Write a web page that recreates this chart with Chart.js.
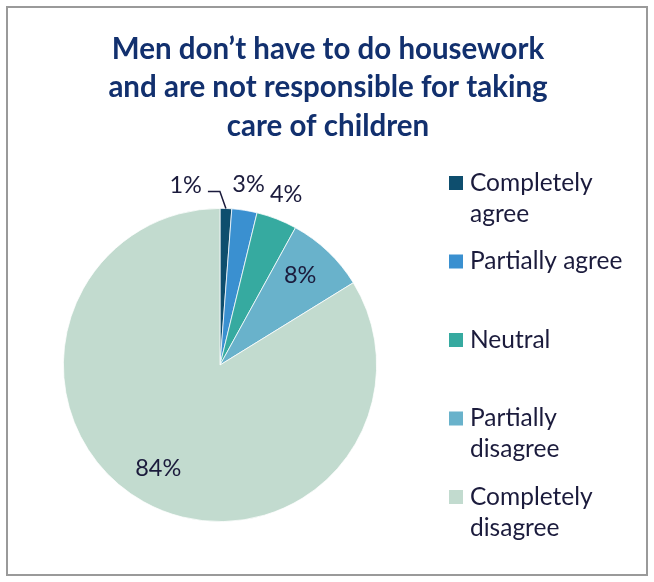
<!DOCTYPE html>
<html>
<head>
<meta charset="utf-8">
<script src="https://cdn.jsdelivr.net/npm/chart.js@4"></script>
<style>
  html, body { margin: 0; padding: 0; background: #fff; }
  canvas { display: block; }
</style>
</head>
<body>
<canvas id="pie" width="654" height="582"></canvas>
<script>
// values (shown rounded)
const categories = ["Completely agree", "Partially agree", "Neutral", "Partially disagree", "Completely disagree"];
const legendLines = [["Completely", "agree"], ["Partially agree"], ["Neutral"], ["Partially", "disagree"], ["Completely", "disagree"]];
const shares = [1.2, 2.6, 4.2, 8.2, 83.8];
const sliceColors = ["#0E4E6E", "#3A90D0", "#36AAA0", "#69B2CB", "#C2DBCF"];
const titleLines = ["Men don\u2019t have to do housework", "and are not responsible for taking", "care of children"];

const textColor = "#1B1B3C";
const titleColor = "#12306E";
const fontFamily = "Lato, 'Open Sans', sans-serif";

const decor = {
    id: "decor",
    afterDraw(chart) {
        const ctx = chart.ctx;
        ctx.save();
        // frame
        ctx.strokeStyle = "#9A9A9A";
        ctx.lineWidth = 2;
        ctx.strokeRect(7, 7, chart.width - 14, chart.height - 14);

        // title
        ctx.fillStyle = titleColor;
        ctx.font = "bold 29.5px " + fontFamily;
        ctx.textAlign = "center";
        ctx.textBaseline = "middle";
        titleLines.forEach((t, i) => ctx.fillText(t, 328, 49 + i * 38.5));

        // legend
        ctx.font = "24.5px " + fontFamily;
        ctx.textAlign = "left";
        categories.forEach((c, i) => {
            const y = 183 + i * 78.5;
            ctx.fillStyle = sliceColors[i];
            ctx.fillRect(449, y - 7, 14, 14);
            ctx.fillStyle = textColor;
            legendLines[i].forEach((line, j) => ctx.fillText(line, 470, y + j * 31));
        });

        // percentage labels
        const meta = chart.getDatasetMeta(0);
        ctx.font = "23.5px " + fontFamily;
        ctx.fillStyle = textColor;
        ctx.strokeStyle = textColor;
        meta.data.forEach((arc, i) => {
            const p = arc.getProps(["x", "y", "startAngle", "endAngle", "outerRadius"], true);
            const mid = (p.startAngle + p.endAngle) / 2;
            const txt = Math.round(shares[i]) + "%";
            if (shares[i] >= 5) {
                const r = p.outerRadius * 0.77;
                ctx.textAlign = "center";
                ctx.fillText(txt, p.x + Math.cos(mid) * r - 3, p.y + Math.sin(mid) * r - 2);
            } else if (i === 0) {
                // pushed aside with a leader line
                const ex = p.x + Math.cos(mid) * p.outerRadius;
                const ey = p.y + Math.sin(mid) * p.outerRadius;
                ctx.lineWidth = 1.5;
                ctx.beginPath();
                ctx.moveTo(ex, ey);
                ctx.lineTo(ex - 6, ey - 17);
                ctx.lineTo(ex - 18, ey - 17);
                ctx.stroke();
                ctx.textAlign = "right";
                ctx.fillText(txt, ex - 24, ey - 23);
            } else {
                const r = p.outerRadius + 26;
                ctx.textAlign = "center";
                ctx.fillText(txt, p.x + Math.cos(mid) * r, p.y + Math.sin(mid) * r);
            }
        });
        ctx.restore();
    }
};

new Chart(document.getElementById("pie"), {
    type: "pie",
    data: {
        labels: categories,
        datasets: [{
            data: shares,
            backgroundColor: sliceColors,
            borderColor: "#ffffff",
            borderWidth: 0.75
        }]
    },
    options: {
        responsive: false,
        animation: false,
        layout: { padding: { left: 63, top: 208, right: 277, bottom: 60 } },
        plugins: {
            legend: { display: false },
            tooltip: { enabled: false },
            title: { display: false }
        }
    },
    plugins: [decor]
});
</script>
</body>
</html>
